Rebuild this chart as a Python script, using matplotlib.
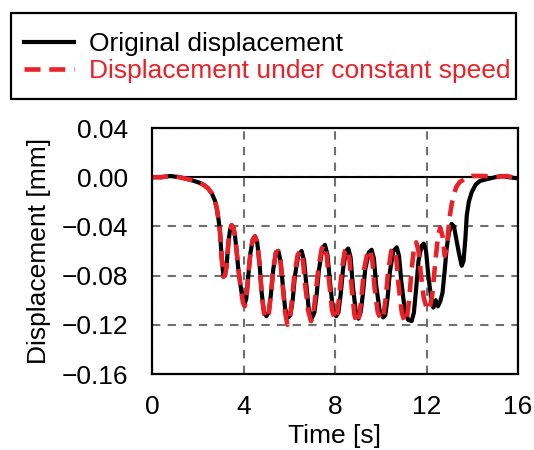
import matplotlib
matplotlib.use("Agg")
from matplotlib import pyplot as plt
from matplotlib.patches import Rectangle

# (time [s], displacement [mm]) pairs
orig_points = [
    (0.0, 0.0), (0.4, 0.0), (0.8, 0.001), (1.2, 0.0), (1.66, -0.002),
    (2.0, -0.004), (2.24, -0.006), (2.45, -0.009), (2.61, -0.013), (2.75, -0.019),
    (2.83, -0.025), (2.92, -0.036), (2.97, -0.044), (3.05, -0.066), (3.12, -0.080),
    (3.19, -0.079), (3.26, -0.072), (3.34, -0.053), (3.41, -0.043), (3.48, -0.039),
    (3.56, -0.041), (3.63, -0.048), (3.7, -0.060), (3.77, -0.074), (3.9, -0.092),
    (3.98, -0.100), (4.05, -0.103), (4.12, -0.099), (4.2, -0.082), (4.3, -0.062),
    (4.4, -0.051), (4.5, -0.048), (4.6, -0.053), (4.7, -0.070), (4.8, -0.095),
    (4.9, -0.110), (5.0, -0.113), (5.1, -0.110), (5.2, -0.095), (5.3, -0.075),
    (5.42, -0.061), (5.52, -0.060), (5.62, -0.068), (5.72, -0.088), (5.82, -0.107),
    (5.95, -0.114), (6.05, -0.112), (6.15, -0.100), (6.25, -0.080), (6.4, -0.063),
    (6.54, -0.060), (6.65, -0.068), (6.75, -0.088), (6.85, -0.107), (6.98, -0.115),
    (7.1, -0.110), (7.2, -0.095), (7.3, -0.075), (7.45, -0.058), (7.56, -0.055),
    (7.67, -0.063), (7.78, -0.085), (7.9, -0.106), (8.05, -0.113), (8.15, -0.110),
    (8.25, -0.095), (8.35, -0.075), (8.48, -0.060), (8.58, -0.058), (8.68, -0.065),
    (8.78, -0.088), (8.9, -0.108), (9.02, -0.115), (9.12, -0.110), (9.22, -0.095),
    (9.32, -0.075), (9.48, -0.061), (9.6, -0.059), (9.7, -0.066), (9.8, -0.088),
    (9.95, -0.108), (10.1, -0.114), (10.2, -0.112), (10.3, -0.098), (10.4, -0.077),
    (10.55, -0.060), (10.7, -0.057), (10.8, -0.064), (10.9, -0.085), (11.05, -0.108),
    (11.2, -0.116), (11.35, -0.117), (11.45, -0.110), (11.55, -0.090), (11.65, -0.068),
    (11.78, -0.056), (11.88, -0.054), (11.98, -0.060), (12.08, -0.080), (12.2, -0.098),
    (12.3, -0.106), (12.4, -0.100), (12.5, -0.105), (12.6, -0.101), (12.7, -0.094),
    (12.8, -0.075), (12.88, -0.058), (12.98, -0.045), (13.1, -0.038), (13.2, -0.040),
    (13.3, -0.050), (13.42, -0.062), (13.54, -0.072), (13.62, -0.068), (13.7, -0.050),
    (13.76, -0.031), (13.85, -0.020), (13.98, -0.012), (14.15, -0.006), (14.34, -0.003),
    (14.55, -0.002), (14.77, -0.001), (15.0, 0.0), (15.3, 0.001), (15.6, 0.0),
    (16.0, -0.001),
]

const_points = [
    (0.0, 0.0), (0.4, 0.0), (0.8, 0.001), (1.2, 0.0), (1.66, -0.002),
    (2.0, -0.004), (2.24, -0.006), (2.45, -0.009), (2.61, -0.013), (2.75, -0.019),
    (2.83, -0.025), (2.92, -0.036), (2.97, -0.044), (3.05, -0.066), (3.12, -0.081),
    (3.19, -0.080), (3.26, -0.073), (3.34, -0.053), (3.41, -0.043), (3.48, -0.039),
    (3.56, -0.041), (3.63, -0.048), (3.7, -0.060), (3.77, -0.074), (3.9, -0.093),
    (3.98, -0.102), (4.05, -0.105), (4.12, -0.100), (4.2, -0.082), (4.3, -0.062),
    (4.4, -0.051), (4.5, -0.048), (4.6, -0.053), (4.7, -0.070), (4.8, -0.096),
    (4.9, -0.111), (5.0, -0.115), (5.1, -0.112), (5.2, -0.095), (5.3, -0.075),
    (5.42, -0.061), (5.52, -0.060), (5.62, -0.069), (5.72, -0.090), (5.82, -0.110),
    (5.92, -0.120), (6.02, -0.115), (6.12, -0.100), (6.22, -0.080), (6.37, -0.063),
    (6.5, -0.060), (6.6, -0.068), (6.7, -0.088), (6.82, -0.108), (6.95, -0.117),
    (7.05, -0.112), (7.15, -0.095), (7.27, -0.075), (7.42, -0.058), (7.53, -0.055),
    (7.64, -0.064), (7.75, -0.086), (7.87, -0.108), (8.0, -0.116), (8.1, -0.110),
    (8.2, -0.095), (8.3, -0.075), (8.43, -0.060), (8.53, -0.058), (8.63, -0.066),
    (8.73, -0.090), (8.85, -0.112), (8.97, -0.119), (9.07, -0.112), (9.17, -0.095),
    (9.27, -0.075), (9.42, -0.061), (9.53, -0.059), (9.63, -0.067), (9.73, -0.090),
    (9.87, -0.110), (10.02, -0.116), (10.12, -0.112), (10.22, -0.098), (10.32, -0.077),
    (10.46, -0.060), (10.58, -0.058), (10.68, -0.066), (10.78, -0.088), (10.92, -0.110),
    (11.05, -0.118), (11.15, -0.114), (11.25, -0.098), (11.35, -0.075), (11.45, -0.058),
    (11.55, -0.053), (11.65, -0.060), (11.75, -0.078), (11.88, -0.098), (12.0, -0.106),
    (12.12, -0.108), (12.25, -0.096), (12.38, -0.070), (12.5, -0.048), (12.6, -0.041),
    (12.7, -0.048), (12.8, -0.064), (12.9, -0.055), (13.0, -0.034), (13.1, -0.022),
    (13.2, -0.014), (13.3, -0.008), (13.45, -0.004), (13.7, -0.001), (14.0, 0.001),
    (14.5, 0.001), (15.0, 0.0), (15.5, 0.001), (16.0, -0.001),
]

x_ticks = [0, 4, 8, 12, 16]
y_ticks = [0.04, 0.0, -0.04, -0.08, -0.12, -0.16]
y_tick_labels = ["0.04", "0.00", "\u22120.04", "\u22120.08", "\u22120.12", "\u22120.16"]

black = "#000000"
red = "#ea2228"
grid_grey = "#707070"


def main():
    plt.rcParams["font.family"] = ["Liberation Sans", "DejaVu Sans"]
    plt.rcParams["font.size"] = 19

    t_orig, d_orig = zip(*orig_points)
    t_const, d_const = zip(*const_points)

    fig = plt.figure(figsize=(5.34, 4.5), dpi=100)
    ax = fig.add_axes([152 / 534, 76 / 450, 366 / 534, 246 / 450])

    ax.set(xlim=(0, 16), ylim=(-0.16, 0.04))
    ax.set_xticks(x_ticks)
    ax.set_yticks(y_ticks)
    ax.set_yticklabels(y_tick_labels)
    ax.tick_params(length=0, labelsize=19)
    ax.tick_params(axis="y", pad=17)
    ax.tick_params(axis="x", pad=15)

    ax.grid(True, color=grid_grey, linewidth=1.5, linestyle=(0, (4, 3.5)))
    ax.set_axisbelow(True)
    ax.axhline(0, color=black, linewidth=1.5, zorder=1.5)

    for s in ax.spines.values():
        s.set_linewidth(1.6)
        s.set_color(black)
        s.set_zorder(5)

    ax.plot(t_orig, d_orig, color=black, linewidth=3.0,
            label="Original displacement", zorder=3, solid_joinstyle="round")
    ax.plot(t_const, d_const, color=red, linewidth=3.3, linestyle=(0, (3.5, 1.9)),
            label="Displacement under constant speed", zorder=4)

    ax.set_xlabel("Time [s]", labelpad=4)
    ax.set_ylabel("Displacement [mm]", labelpad=8)

    # legend text without its own frame, boxed by a plain rectangle
    fig.legend(loc="upper left", bbox_to_anchor=(15 / 534, 1 - 23 / 450),
               frameon=False, handlelength=1.9, handletextpad=0.55,
               labelspacing=0.12, borderpad=0.35, borderaxespad=0,
               labelcolor="linecolor", fontsize=19)
    fig.patches.append(Rectangle((11 / 534, 1 - 99 / 450), 505 / 534, 86 / 450,
                                 transform=fig.transFigure, fill=False,
                                 edgecolor=black, linewidth=1.6))

    plt.savefig("out.png", dpi=100)


if __name__ == "__main__":
    main()
